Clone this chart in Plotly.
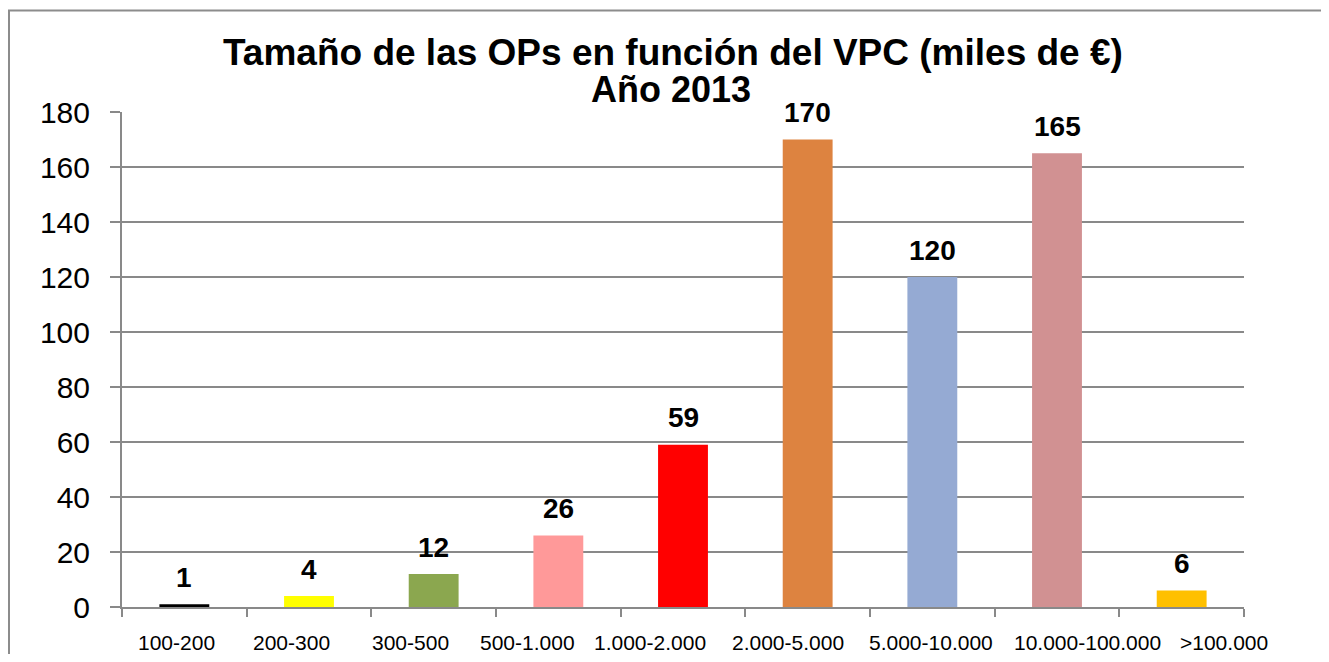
import plotly.graph_objects as go

categories = ["100-200", "200-300", "300-500", "500-1.000", "1.000-2.000",
              "2.000-5.000", "5.000-10.000", "10.000-100.000", ">100.000"]
values = [1, 4, 12, 26, 59, 170, 120, 165, 6]
colors = ["#000000", "#FFFF00", "#8BA74F", "#FF9999", "#FF0000",
          "#DD8340", "#95AAD3", "#D19192", "#FFC000"]
y_ticks = list(range(0, 181, 20))
title_line1 = "Tamaño de las OPs en función del VPC (miles de €)"
title_line2 = "Año 2013"
# horizontal nudges (px) of the category labels, as laid out in the original
label_shift = [-8, -18, -23, -31, -33, -20, -1, 30, 42]

# page body has an 8px margin; figure sized to fit exactly in the window
W, H = 1313, 646
L, R, T, B = 114, 77, 104, 47
pw = W - L - R
ph = H - T - B
FONT = "Liberation Sans, Arial, sans-serif"
GRID = "#898989"

fig = go.Figure()
fig.add_trace(go.Bar(x=categories, y=values, marker=dict(color=colors, line=dict(width=0)),
                     width=0.4, hoverinfo="x+y"))

for c, v in zip(categories, values):
    fig.add_annotation(x=c, y=v, text="<b>" + str(v) + "</b>", showarrow=False, yshift=27,
                       yanchor="middle", xanchor="center",
                       font=dict(family=FONT, size=28, color="#000000"))

# category labels
for c, s in zip(categories, label_shift):
    fig.add_annotation(x=c, y=0, text=c, showarrow=False, yshift=-35, xshift=s,
                       yanchor="middle", xanchor="center",
                       font=dict(family=FONT, size=21, color="#000000"))

# title lines
fig.add_annotation(xref="paper", yref="paper", x=(665 - L) / pw, y=(599 - 44) / ph,
                   text="<b>" + title_line1 + "</b>", showarrow=False,
                   xanchor="center", yanchor="middle", borderpad=0,
                   font=dict(family=FONT, size=37, color="#000000"))
fig.add_annotation(xref="paper", yref="paper", x=(663 - L) / pw, y=(599 - 82) / ph,
                   text="<b>" + title_line2 + "</b>", showarrow=False,
                   xanchor="center", yanchor="middle", borderpad=0,
                   font=dict(family=FONT, size=36, color="#000000"))

# outer chart border
fig.add_shape(type="rect", xref="paper", yref="paper",
              x0=(1 - L) / pw, x1=(W + 30 - L) / pw,
              y0=(599 - (H + 30)) / ph, y1=(599 - 2.5) / ph,
              line=dict(color="#8C8C8C", width=2), fillcolor="rgba(0,0,0,0)", layer="below")

fig.update_layout(
    width=W, height=H,
    margin=dict(l=L, r=R, t=T, b=B),
    paper_bgcolor="white", plot_bgcolor="white",
    showlegend=False,
    font=dict(family=FONT, color="#000000"),
)
fig.update_xaxes(type="category", showline=True, linecolor=GRID, linewidth=2,
                 ticks="outside", tickson="boundaries", ticklen=8, tickcolor=GRID, tickwidth=2,
                 showticklabels=False, showgrid=False, range=[-0.5, 8.5])
fig.update_yaxes(range=[0, 180], tickvals=y_ticks, showline=True, linecolor=GRID, linewidth=2,
                 ticks="outside", ticklen=10, tickcolor=GRID, tickwidth=2,
                 showgrid=True, gridcolor=GRID, gridwidth=2, zeroline=False,
                 tickfont=dict(size=30, color="#000000"), ticklabelstandoff=14)

fig.write_html("out.html")
